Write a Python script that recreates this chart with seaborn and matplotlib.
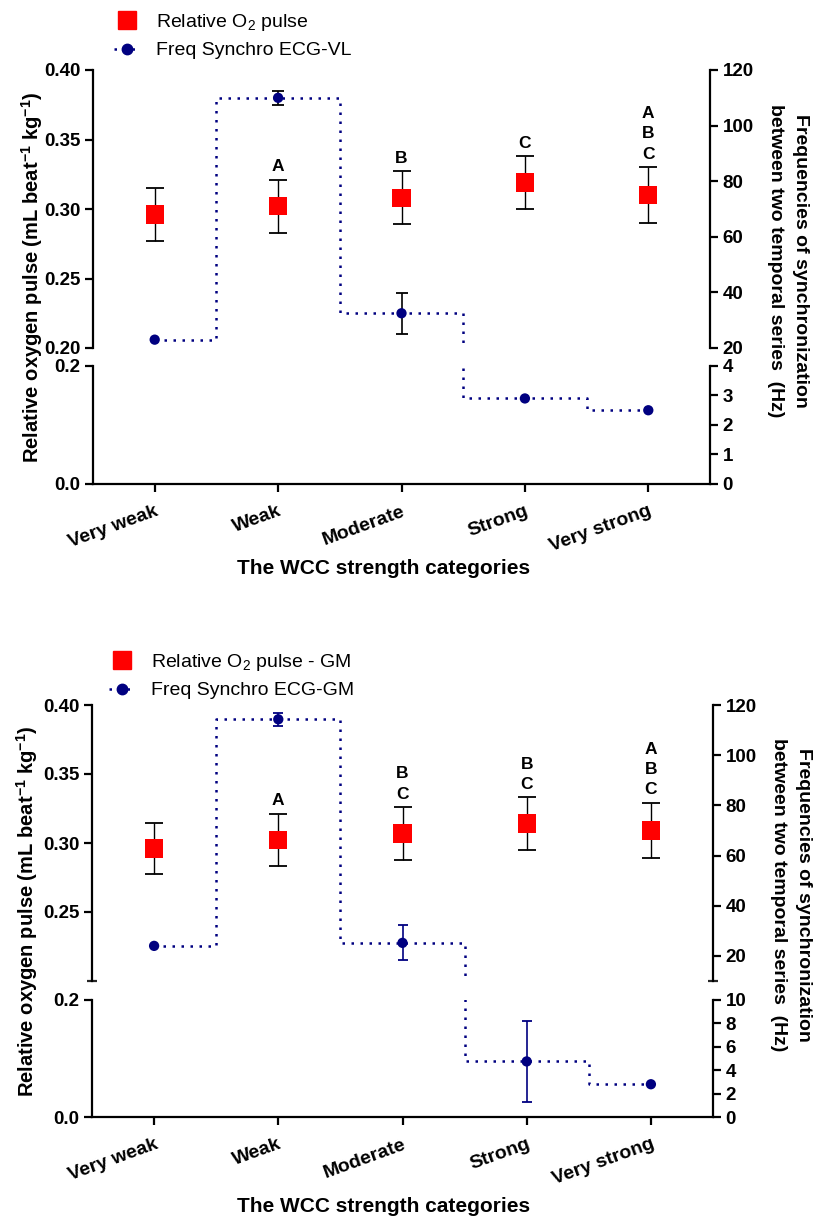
import numpy as np
import matplotlib
matplotlib.use('Agg')
import matplotlib.pyplot as plt
from matplotlib.lines import Line2D
import seaborn as sns

categories = ['Very weak', 'Weak', 'Moderate', 'Strong', 'Very strong']

# upper chart: vastus lateralis
o2_vl = [0.296, 0.302, 0.308, 0.319, 0.310]
o2_vl_err = [0.019, 0.019, 0.019, 0.019, 0.020]
freq_vl = [23.0, 110.0, 32.5, 2.9, 2.5]
freq_vl_err = [0.0, 2.6, 7.3, 0.0, 0.0]
letters_vl = ['', 'A', 'B', 'C', 'A\nB\nC']

# lower chart: gastrocnemius medialis
o2_gm = [0.296, 0.302, 0.307, 0.314, 0.309]
o2_gm_err = [0.0185, 0.019, 0.019, 0.019, 0.020]
freq_gm = [24.0, 114.3, 25.2, 4.75, 2.8]
freq_gm_err = [0.0, 2.7, 7.0, 3.45, 0.0]
letters_gm = ['', 'A', 'B\nC', 'B\nC', 'A\nB\nC']

sns.set_style('ticks')
plt.rcParams['font.family'] = ['Liberation Sans', 'DejaVu Sans']
plt.rcParams['font.weight'] = 'bold'
plt.rcParams['axes.labelweight'] = 'bold'
plt.rcParams['mathtext.default'] = 'regular'
plt.rcParams['text.color'] = 'black'

RED = '#ff0000'
NAVY = '#000080'
W, H = 816, 1220

fig = plt.figure(figsize=(8.16, 12.2), dpi=100)


def box(x0, y0, x1, y1):
    # pixel box (top-left origin) -> figure fraction rect
    return [x0 / W, 1 - y1 / H, (x1 - x0) / W, (y1 - y0) / H]


def style(ax, spines_on):
    for s in ['left', 'right', 'top', 'bottom']:
        ax.spines[s].set_visible(s in spines_on)
        ax.spines[s].set_linewidth(1.6)
        ax.spines[s].set_color('black')
    ax.tick_params(width=1.6, length=5.5, labelsize=13.5, colors='black')


def panel(top_px, bot_px, o2, o2_err, freq, freq_err, letters,
          rt_lim, rt_ticks, rb_lim, rb_ticks, lt_ticks, show_cap,
          err_color, cap_blue, leg_labels, leg_xy, ylab_xy, rlab_xy, xlab_xy):
    x = np.arange(len(categories))
    ax_t = fig.add_axes(box(*top_px))
    ax_b = fig.add_axes(box(*bot_px))
    ax_tr = ax_t.twinx()
    ax_br = ax_b.twinx()

    # relative O2 pulse (left axis, upper part only)
    ax_t.errorbar(x, o2, yerr=o2_err, fmt='none', ecolor='black',
                  elinewidth=1.0, capsize=6.5, capthick=1.3, zorder=2)
    sns.scatterplot(x=x, y=o2, ax=ax_t, marker='s', s=175, color=RED,
                    edgecolor='none', zorder=3, legend=False)
    for i in x:
        if letters[i]:
            ax_t.annotate(letters[i], (i, o2[i] + o2_err[i]), xytext=(0, 4),
                          textcoords='offset points', ha='center', va='bottom',
                          fontsize=12.5, fontweight='bold', linespacing=1.45)

    # synchronisation frequency (right axis, both parts)
    has_err = [i for i in x if freq_err[i] > 0]
    for a in (ax_tr, ax_br):
        sns.lineplot(x=x, y=freq, ax=a, drawstyle='steps-mid', color=NAVY,
                     linestyle=(0, (1, 2.6)), linewidth=1.8, errorbar=None,
                     zorder=2)
        a.errorbar(x[has_err], np.array(freq)[has_err],
                   yerr=np.array(freq_err)[has_err], fmt='none',
                   ecolor=err_color, elinewidth=1.2, capsize=cap_blue,
                   capthick=1.3, zorder=3)
        sns.scatterplot(x=x, y=freq, ax=a, color=NAVY, s=55,
                        edgecolor='none', zorder=4, legend=False)

    for a in (ax_t, ax_b, ax_tr, ax_br):
        a.set_xlim(-0.5, 4.5)
        a.set_xlabel('')
        a.set_ylabel('')
    ax_t.set_ylim(0.20, 0.40)
    ax_b.set_ylim(0, 0.2)
    ax_tr.set_ylim(*rt_lim)
    ax_br.set_ylim(*rb_lim)

    style(ax_t, ['left'])
    style(ax_tr, ['right'])
    style(ax_b, ['left', 'bottom'])
    style(ax_br, ['right'])

    ax_t.set_yticks(lt_ticks, ['%.2f' % t for t in lt_ticks])
    ax_b.set_yticks([0, 0.2], ['0.0', '0.2'])
    ax_tr.set_yticks(rt_ticks, [str(t) for t in rt_ticks])
    ax_br.set_yticks(rb_ticks, [str(t) for t in rb_ticks])
    if show_cap:
        ax_t.set_yticks([0.20], minor=True)
        ax_t.tick_params(axis='y', which='minor', direction='inout', length=7, width=1.6)
        ax_tr.set_yticks([rt_lim[0]], minor=True)
        ax_tr.tick_params(axis='y', which='minor', direction='inout', length=7, width=1.6)
    ax_t.tick_params(axis='x', bottom=False, labelbottom=False)
    ax_tr.tick_params(axis='x', bottom=False, labelbottom=False)
    ax_br.tick_params(axis='x', bottom=False, labelbottom=False)
    ax_b.set_xticks(x)
    ax_b.set_xticklabels(categories, rotation=20, ha='right',
                         rotation_mode='anchor', fontsize=14, fontweight='bold')
    ax_b.tick_params(axis='x', pad=8)

    fig.text(ylab_xy[0] / W, 1 - ylab_xy[1] / H,
             'Relative oxygen pulse (mL beat$^{-1}$ kg$^{-1}$)',
             rotation=90, ha='center', va='center', fontsize=14.5, fontweight='bold')
    fig.text(rlab_xy[0] / W, 1 - rlab_xy[1] / H,
             'Frequencies of synchronization\nbetween two temporal series  (Hz)',
             rotation=270, ha='center', va='center', multialignment='center',
             fontsize=14, fontweight='bold', linespacing=1.55)
    fig.text(xlab_xy[0] / W, 1 - xlab_xy[1] / H, 'The WCC strength categories',
             ha='center', va='center', fontsize=15, fontweight='bold')

    handles = [Line2D([], [], marker='s', color=RED, linestyle='none', markersize=13),
               Line2D([], [], marker='o', color=NAVY, linestyle=(0, (1, 2.6)),
                      linewidth=1.8, markersize=7.5)]
    fig.legend(handles, leg_labels, loc='upper left',
               bbox_to_anchor=(leg_xy[0] / W, 1 - leg_xy[1] / H),
               frameon=False, prop={'size': 14, 'weight': 'normal'},
               handlelength=1.35, handletextpad=0.8, labelspacing=0.45,
               borderpad=0, borderaxespad=0)


panel((93, 70, 710, 348), (93, 366, 710, 484), o2_vl, o2_vl_err, freq_vl,
      freq_vl_err, letters_vl, (20, 120), [20, 40, 60, 80, 100, 120],
      (0, 4), [0, 1, 2, 3, 4], [0.20, 0.25, 0.30, 0.35, 0.40], False,
      'black', 4.5, ['Relative O$_2$ pulse', 'Freq Synchro ECG-VL'],
      (114, 12), (32, 277), (788, 261), (384, 569))

panel((92, 705, 713, 981), (92, 1000, 713, 1117), o2_gm, o2_gm_err, freq_gm,
      freq_gm_err, letters_gm, (10, 120), [20, 40, 60, 80, 100, 120],
      (0, 10), [0, 2, 4, 6, 8, 10], [0.25, 0.30, 0.35, 0.40], True,
      NAVY, 3.7, ['Relative O$_2$ pulse - GM', 'Freq Synchro ECG-GM'],
      (109, 652), (27, 911), (791, 895), (384, 1207))

fig.savefig('out.png', dpi=100)
